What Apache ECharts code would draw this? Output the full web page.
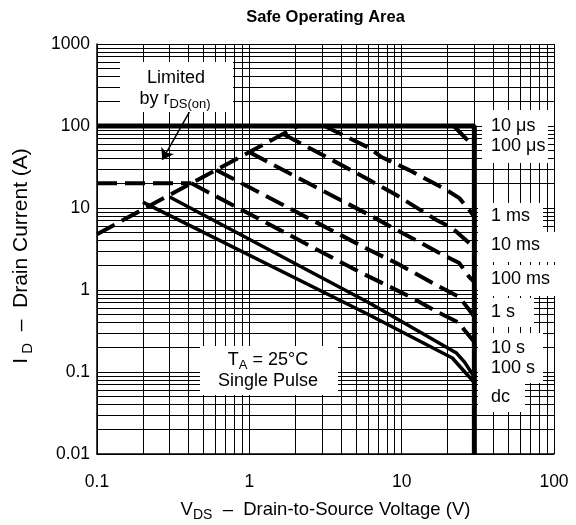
<!DOCTYPE html>
<html><head><meta charset="utf-8">
<script src="https://cdn.jsdelivr.net/npm/echarts@6/dist/echarts.min.js"></script>
<style>html,body{margin:0;padding:0;background:#fff}#c{width:576px;height:525px}</style>
</head><body><div id="c"></div>
<script>
// ---- axes / ticks ----
const xTickLabels = ['0.1', '1', '10', '100'];
const yTickLabels = ['0.01', '0.1', '1', '10', '100', '1000'];
const xDecades = [0.1, 1, 10];
const yDecades = [0.01, 0.1, 1, 10, 100];
const minorMultipliers = [2, 3, 4, 5, 6, 7, 8, 9];

// ---- curves (V_DS [V], I_D [A]) ----
const limitTop = [[0.1, 100], [30, 100], [30, 0.01]];
const rdsLine = [[0.1, 4.8], [2.08, 100]];
const current20 = [[0.1, 20], [0.417, 20]];
const us10 = [[22, 100], [30, 55]];
const us100 = [[3.11, 100], [6.14, 53.9], [7.36, 41.9], [11.2, 29], [19.7, 16.6], [23.9, 13.2], [27.8, 9.45], [30, 7.8]];
const ms1 = [[1.67, 80], [6.14, 21.9], [9.23, 14.4], [16.9, 7.14], [21.5, 5.7], [27.8, 3.74], [30, 3.07]];
const ms10 = [[1, 48], [2.035, 23.9], [6.14, 8.22], [10.1, 4.96], [17.7, 2.83], [23.9, 2.13], [27.8, 1.44], [30, 1.25]];
const ms100 = [[0.607, 29.1], [6.14, 3.07], [9.23, 2.13], [16.9, 1.15], [23.9, 0.82], [27.8, 0.57], [30, 0.47]];
const s1 = [[0.417, 20], [5.28, 1.66], [7.94, 1.15], [11.76, 0.80], [17.7, 0.524], [23.9, 0.396], [25.8, 0.325], [30, 0.232]];
const s10 = [[0.3, 13.6], [6.14, 0.694], [22.9, 0.17], [25.8, 0.133], [30, 0.087]];
const s100dc = [[0.2, 11.8], [6.14, 0.496], [21.5, 0.148], [27.8, 0.087], [30, 0.0735]];

// ---- labels ----
const curveLabels = ['10 μs', '100 μs', '1 ms', '10 ms', '100 ms', '1 s', '10 s', '100 s', 'dc'];

const FONT = '"Liberation Sans", Arial, Helvetica, sans-serif';
const xMinor = [];
xDecades.forEach(d => minorMultipliers.forEach(m => xMinor.push(+(d * m).toPrecision(3))));
const yMinor = [];
yDecades.forEach(d => minorMultipliers.forEach(m => yMinor.push(+(d * m).toPrecision(3))));

const chart = echarts.init(document.getElementById('c'), null, {renderer: 'canvas'});

const dashed = (name, data) => ({
  name, type: 'line', data, z: 3, symbol: 'none', showSymbol: false, silent: true,
  lineStyle: {color: '#000', width: 4, type: [20, 8]}
});
const solid = (name, data, w) => ({
  name, type: 'line', data, z: 3, symbol: 'none', showSymbol: false, silent: true,
  lineStyle: {color: '#000', width: w, type: 'solid'}
});

const rowText = (txt, y) => ({
  type: 'text', x: 491, y, z: 61, silent: true,
  style: {text: txt, fill: '#000', fontSize: 18, fontFamily: FONT, align: 'left', verticalAlign: 'middle'}
});
const box = (x, y, w, h) => ({
  type: 'rect', z: 60, silent: true, shape: {x, y, width: w, height: h}, style: {fill: '#fff'}
});
const richAnno = {
  m: {fontSize: 18, fontFamily: FONT, lineHeight: 23, color: '#000'},
  s: {fontSize: 13, fontFamily: FONT, lineHeight: 23, verticalAlign: 'bottom', color: '#000'}
};
const richX = {
  m: {fontSize: 18.5, fontFamily: FONT, lineHeight: 24, color: '#000'},
  s: {fontSize: 14, fontFamily: FONT, lineHeight: 24, verticalAlign: 'bottom', color: '#000'}
};
const richY = {
  m: {fontSize: 21, fontFamily: FONT, lineHeight: 27, color: '#000'},
  s: {fontSize: 15, fontFamily: FONT, lineHeight: 27, verticalAlign: 'bottom', color: '#000'}
};

const option = {
  animation: false,
  backgroundColor: '#fff',
  title: {
    text: 'Safe Operating Area', left: 325.5, top: 9, padding: 0, textAlign: 'center',
    textStyle: {fontSize: 16.5, fontWeight: 'bold', fontFamily: FONT, color: '#000'}
  },
  grid: {left: 97, right: 22, top: 44, bottom: 71, containLabel: false, outerBoundsMode: 'none'},
  xAxis: {
    type: 'log', logBase: 10, min: 0.1, max: 100,
    axisLine: {show: true, lineStyle: {color: '#000', width: 1.5}},
    axisTick: {show: false},
    axisLabel: {
      color: '#000', fontSize: 17.5, fontFamily: FONT, margin: 19,
      formatter: v => xTickLabels[Math.round(Math.log10(v)) + 1]
    },
    splitLine: {show: true, lineStyle: {color: '#000', width: 1}},
    name: '{m|V}{s|DS}{m|  –  Drain-to-Source Voltage (V)}',
    nameLocation: 'middle', nameGap: 44,
    nameTextStyle: {rich: richX}
  },
  yAxis: {
    type: 'log', logBase: 10, min: 0.01, max: 1000,
    axisLine: {show: true, lineStyle: {color: '#000', width: 1.5}},
    axisTick: {show: false},
    axisLabel: {
      color: '#000', fontSize: 17.5, fontFamily: FONT, margin: 7,
      formatter: v => yTickLabels[Math.round(Math.log10(v)) + 2]
    },
    splitLine: {show: true, lineStyle: {color: '#000', width: 1}},
    name: '{m|I}{s| D}{m|  –  Drain Current (A)}',
    nameLocation: 'middle', nameGap: 62,
    nameTextStyle: {rich: richY, padding: [0, 14, 0, 0]}
  },
  series: [
    {
      name: 'grid', type: 'line', data: [], z: 1, silent: true, symbol: 'none',
      markLine: {
        silent: true, symbol: ['none', 'none'], animation: false,
        label: {show: false},
        lineStyle: {color: '#000', width: 1, type: 'solid'},
        emphasis: {disabled: true},
        data: xMinor.map(v => ({xAxis: v})).concat(yMinor.map(v => ({yAxis: v})))
      }
    },
    solid('limit', limitTop, 5),
    Object.assign(dashed('rds', rdsLine), {
      markLine: {
        silent: true, symbol: ['none', 'arrow'], symbolSize: 11, animation: false,
        label: {show: false},
        lineStyle: {color: '#000', width: 1.5, type: 'solid'},
        emphasis: {disabled: true},
        data: [[{coord: [0.404, 148]}, {coord: [0.268, 38.5]}]]
      }
    }),
    dashed('20A', current20),
    dashed(curveLabels[0], us10),
    dashed(curveLabels[1], us100),
    dashed(curveLabels[2], ms1),
    dashed(curveLabels[3], ms10),
    dashed(curveLabels[4], ms100),
    dashed(curveLabels[5], s1),
    solid(curveLabels[6], s10, 3.5),
    solid(curveLabels[7] + ' / ' + curveLabels[8], s100dc, 3.5)
  ],
  graphic: [
    box(120, 62, 113, 50),
    {type: 'text', x: 176, y: 78, z: 61, silent: true,
      style: {text: 'Limited', fill: '#000', fontSize: 18, fontFamily: FONT, align: 'center', verticalAlign: 'middle'}},
    {type: 'text', x: 175, y: 99, z: 61, silent: true,
      style: {text: '{m|by r}{s|DS(on)}', rich: richAnno, fill: '#000', fontSize: 18, fontFamily: FONT, align: 'center', verticalAlign: 'middle'}},
    box(200, 346, 138, 49),
    {type: 'text', x: 268, y: 360, z: 61, silent: true,
      style: {text: '{m|T}{s|A}{m| = 25°C}', rich: richAnno, fill: '#000', fontSize: 18, fontFamily: FONT, align: 'center', verticalAlign: 'middle'}},
    {type: 'text', x: 268, y: 381, z: 61, silent: true,
      style: {text: 'Single Pulse', fill: '#000', fontSize: 18, fontFamily: FONT, align: 'center', verticalAlign: 'middle'}},
    box(482, 110, 66, 53),
    box(478, 203, 65, 29),
    box(478, 232, 77, 30),
    box(478, 265, 77, 31),
    box(478, 298, 56, 29),
    box(478, 333, 65, 50),
    box(478, 383, 47, 29),
    rowText(curveLabels[0], 126),
    rowText(curveLabels[1], 146),
    rowText(curveLabels[2], 216),
    rowText(curveLabels[3], 245),
    rowText(curveLabels[4], 279),
    rowText(curveLabels[5], 312),
    rowText(curveLabels[6], 348),
    rowText(curveLabels[7], 368),
    rowText(curveLabels[8], 397)
  ]
};
chart.setOption(option);
</script>
</body></html>
